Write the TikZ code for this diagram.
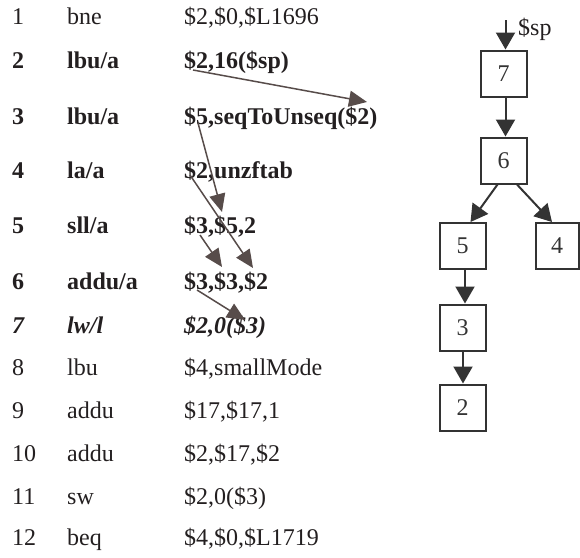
\documentclass[tikz,border=0pt]{standalone}
\usepackage{fontspec}
\setmainfont{Liberation Serif}
\usetikzlibrary{arrows.meta,calc}
\definecolor{inkc}{HTML}{231F20}
\definecolor{depc}{HTML}{574C4A}
\definecolor{treec}{HTML}{333333}
\begin{document}
\begin{tikzpicture}[x=1pt,y=-1pt,
  txt/.style={anchor=base west, inner sep=0pt, text=inkc, font=\fontsize{24}{28}\selectfont},
  btxt/.style={txt, font=\fontsize{24}{28}\selectfont\bfseries},
  bitxt/.style={txt, font=\fontsize{24}{28}\selectfont\bfseries\itshape},
  dep/.style={draw=depc, line width=1.5pt, arrows={-Triangle[length=18pt,width=16pt]}},
  treearrow/.style={draw=treec, line width=2pt, arrows={-Triangle[length=17pt,width=19pt]}},
  blk/.style={draw=treec, line width=2pt, minimum width=46pt, minimum height=46pt,
    inner sep=0pt, text=treec, font=\fontsize{24}{28}\selectfont}
]
\useasboundingbox (0,0) rectangle (580,557);

% instruction listing: number, opcode, operands
\foreach \r/\y/\st/\num/\op/\arg in {
  1/24/txt/1/bne/{\$2,\$0,\$L1696},
  2/68/btxt/2/lbu\slash a/{\$2,16(\$sp)},
  3/124/btxt/3/lbu\slash a/{\$5,seqToUnseq(\$2)},
  4/178/btxt/4/la\slash a/{\$2,unzftab},
  5/233/btxt/5/sll\slash a/{\$3,\$5,2},
  6/289/btxt/6/addu\slash a/{\$3,\$3,\$2},
  7/333/bitxt/7/lw\slash l/{\$2,0(\$3)},
  8/375/txt/8/lbu/{\$4,smallMode},
  9/418/txt/9/addu/{\$17,\$17,1},
  10/461/txt/10/addu/{\$2,\$17,\$2},
  11/504/txt/11/sw/{\$2,0(\$3)},
  12/545/txt/12/beq/{\$4,\$0,\$L1719}}{
  \node[\st] (num\r) at (12,\y) {\num};
  \node[\st] (op\r) at (67,\y) {\op};
  \node[\st] (arg\r) at (184,\y) {\arg};
}

% dependence arrows between operands
\coordinate (s1) at (193,70);  \coordinate (t1) at (367,102);
\coordinate (s2) at (198,123); \coordinate (t2) at (222,212);
\coordinate (s3) at (190,175); \coordinate (t3) at (253,268);
\coordinate (s4) at (200,235); \coordinate (t4) at (222,267);
\coordinate (s5) at (197,290); \coordinate (t5) at (245,320);
\foreach \i in {1,...,5}{ \draw[dep] (s\i) -- (t\i); }

% dependence tree
\node[blk] (b7) at (503.5,73.5) {7};
\node[blk] (b6) at (503.5,160.5) {6};
\node[blk] (b5) at (462.5,246) {5};
\node[blk, minimum width=43pt] (b4) at (557,246) {4};
\node[blk] (b3) at (462.5,327.5) {3};
\node[blk] (b2) at (462.5,407.5) {2};

\coordinate (sptop) at (505.5,20);
\node[txt] (sp) at (518,35) {\$sp};
\draw[treearrow] (sptop) -- (sptop |- b7.north);
\draw[treearrow] ($(b7.south)+(2,0)$) -- ($(b6.north)+(2,0)$);
\draw[treearrow] ($(b6.south)+(-6,0)$) -- ($(b5.north)+(8,0)$);
\draw[treearrow] ($(b6.south)+(13.5,0)$) -- ($(b4.north)+(-5,0)$);
\draw[treearrow] ($(b5.south)+(2.5,0)$) -- ($(b3.north)+(2.5,0)$);
\draw[treearrow] ($(b3.south)+(0.5,0)$) -- ($(b2.north)+(0.5,0)$);
\end{tikzpicture}
\end{document}
